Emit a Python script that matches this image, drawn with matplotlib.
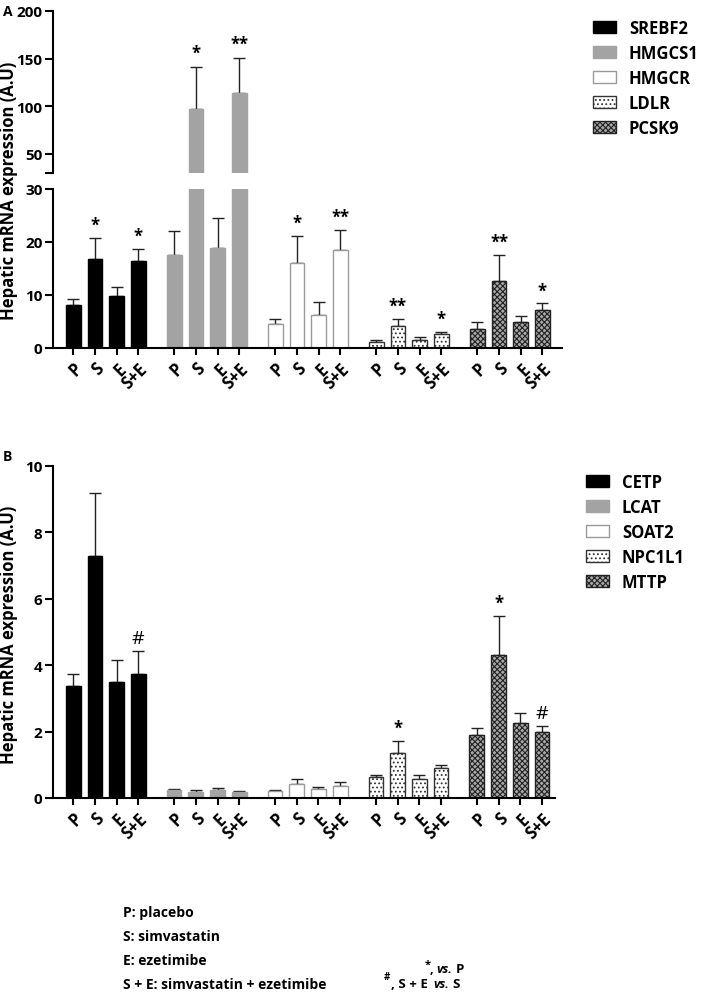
import matplotlib
matplotlib.use("Agg")
import matplotlib.pyplot as plt
from matplotlib.patches import Patch
import numpy as np

plt.rcParams['font.family'] = ['Open Sans', 'DejaVu Sans']
plt.rcParams['font.weight'] = 'bold'
plt.rcParams['hatch.linewidth'] = 0.8

# --- DATA ---
treatments = ['P', 'S', 'E', 'S+E']

genes_a = ['SREBF2', 'HMGCS1', 'HMGCR', 'LDLR', 'PCSK9']
mean_a = [
    [8.2, 16.8, 9.9, 16.5],
    [17.5, 97.2, 18.8, 113.6],
    [4.5, 16.0, 6.3, 18.5],
    [1.2, 4.2, 1.6, 2.6],
    [3.5, 12.6, 5.0, 7.2],
]
err_a = [
    [1.1, 4.0, 1.7, 2.2],
    [4.5, 44.4, 5.7, 37.1],
    [1.0, 5.1, 2.3, 3.8],
    [0.4, 1.3, 0.5, 0.5],
    [1.5, 4.9, 1.1, 1.2],
]
sig_a = [
    ['', '*', '', '*'],
    ['', '*', '', '**'],
    ['', '*', '', '**'],
    ['', '**', '', '*'],
    ['', '**', '', '*'],
]

genes_b = ['CETP', 'LCAT', 'SOAT2', 'NPC1L1', 'MTTP']
mean_b = [
    [3.36, 7.3, 3.5, 3.73],
    [0.25, 0.19, 0.24, 0.17],
    [0.20, 0.43, 0.26, 0.35],
    [0.62, 1.36, 0.57, 0.91],
    [1.91, 4.31, 2.25, 1.99],
]
err_b = [
    [0.38, 1.9, 0.66, 0.71],
    [0.03, 0.06, 0.06, 0.04],
    [0.05, 0.15, 0.07, 0.12],
    [0.07, 0.36, 0.13, 0.08],
    [0.21, 1.17, 0.32, 0.19],
]
sig_b = [
    ['', '', '', '#'],
    ['', '', '', ''],
    ['', '', '', ''],
    ['', '*', '', ''],
    ['', '*', '', '#'],
]

# styles per gene slot
styles = [
    dict(fc='black', ec='black', hatch=None),
    dict(fc='#a3a3a3', ec='#a3a3a3', hatch=None),
    dict(fc='white', ec='#9a9a9a', hatch=None),
    dict(fc='white', ec='#333333', hatch='....'),
    dict(fc='#a8a8a8', ec='#222222', hatch='xxxxxx'),
]

pitch = 4.65
width = 0.68
xlim = (-0.93, 4 * pitch + 3 + 0.9)


def xpos(g):
    return g * pitch + np.arange(4)


def draw_bars(ax, means, errs):
    for g in range(5):
        st = styles[g]
        x = xpos(g)
        ax.bar(x, means[g], width, color=st['fc'], edgecolor=st['ec'],
               hatch=st['hatch'], linewidth=1.0, zorder=2)
        ax.errorbar(x, means[g], yerr=[np.zeros(4), errs[g]], fmt='none',
                    ecolor='#222222', elinewidth=1.0, capsize=4, capthick=1.0,
                    zorder=1)


def style_axis(ax):
    for s in ['top', 'right']:
        ax.spines[s].set_visible(False)
    ax.spines['left'].set_linewidth(1.5)
    ax.spines['bottom'].set_linewidth(1.5)
    ax.tick_params(axis='y', direction='out', length=6, width=1.5, labelsize=11, pad=1.5)
    ax.set_xlim(*xlim)
    for lab in ax.get_yticklabels():
        lab.set_fontweight('bold')


def set_xticks(ax):
    xs = np.concatenate([xpos(g) for g in range(5)])
    ax.set_xticks(xs)
    ax.set_xticklabels(treatments * 5, rotation=45, ha='right',
                       rotation_mode='anchor', fontsize=12, fontweight='bold')
    ax.tick_params(axis='x', direction='out', length=5, width=1.5, pad=3)


fig = plt.figure(figsize=(7.09, 9.95), dpi=100)

# ---- Panel A: broken axis ----
ax_up = fig.add_axes([53 / 709, 1 - 174 / 995, 509 / 709, 162 / 995])
ax_lo = fig.add_axes([53 / 709, 1 - 349 / 995, 509 / 709, 159 / 995])

draw_bars(ax_up, mean_a, err_a)
draw_bars(ax_lo, mean_a, err_a)

ax_up.set_ylim(30, 200)
ax_up.set_yticks([30, 50, 100, 150, 200])
ax_up.set_yticklabels(['', '50', '100', '150', '200'])
ax_up.spines['bottom'].set_visible(False)
ax_up.set_xticks([])
style_axis(ax_up)

ax_lo.set_ylim(0, 30)
ax_lo.set_yticks([0, 10, 20, 30])
style_axis(ax_lo)
set_xticks(ax_lo)

for g in range(5):
    for i in range(4):
        s = sig_a[g][i]
        if not s:
            continue
        top = mean_a[g][i] + err_a[g][i]
        x = xpos(g)[i]
        if top > 30:
            ax_up.text(x, top + 5, s, ha='center', va='bottom', fontsize=12)
        else:
            ax_lo.text(x, top + 0.8, s, ha='center', va='bottom', fontsize=12)

fig.text(9 / 709, 1 - 191 / 995, 'Hepatic mRNA expression (A.U)', rotation=90,
         ha='center', va='center', fontsize=12, fontweight='bold')
fig.text(3 / 709, 1 - 12 / 995, 'A', fontsize=10, fontweight='bold', va='center')

# ---- Panel B ----
ax_b = fig.add_axes([53 / 709, 1 - 799 / 995, 502 / 709, 332 / 995])
draw_bars(ax_b, mean_b, err_b)
ax_b.set_ylim(0, 10)
ax_b.set_yticks([0, 2, 4, 6, 8, 10])
style_axis(ax_b)
ax_b.set_xlim(xlim[0], xlim[1] - 0.3)
set_xticks(ax_b)

for g in range(5):
    for i in range(4):
        s = sig_b[g][i]
        if not s:
            continue
        top = mean_b[g][i] + err_b[g][i]
        x = xpos(g)[i]
        ax_b.text(x, top + 0.12, s, ha='center', va='bottom', fontsize=14 if s == '#' else 12,
                  fontweight='normal' if s == '#' else 'bold')

fig.text(9 / 709, 1 - 635 / 995, 'Hepatic mRNA expression (A.U)', rotation=90,
         ha='center', va='center', fontsize=12, fontweight='bold')
fig.text(3 / 709, 1 - 457 / 995, 'B', fontsize=10, fontweight='bold', va='center')

# ---- Legends ----
def make_handles(names):
    return [Patch(facecolor=styles[g]['fc'], edgecolor=styles[g]['ec'],
                  hatch=styles[g]['hatch'], linewidth=1.0, label=names[g])
            for g in range(5)]

leg_kw = dict(frameon=False, loc='upper left', handlelength=1.4, handleheight=0.7,
              labelspacing=0.42, handletextpad=0.75, borderpad=0, borderaxespad=0,
              prop={'weight': 'bold', 'size': 12})
fig.legend(handles=make_handles(genes_a), bbox_to_anchor=(593 / 709, 1 - 20 / 995), **leg_kw)
fig.legend(handles=make_handles(genes_b), bbox_to_anchor=(586 / 709, 1 - 474 / 995), **leg_kw)

# ---- Footer ----
footer = ['P: placebo', 'S: simvastatin', 'E: ezetimibe',
          'S + E: simvastatin + ezetimibe']
for k, line in enumerate(footer):
    fig.text(123 / 709, 1 - (913 + 24 * k) / 995, line, fontsize=10,
             fontweight='bold', va='center')

fig.text(425 / 709, 1 - 965 / 995, '*', fontsize=8, fontweight='bold', va='center')
fig.text(430 / 709, 1 - 970 / 995, ',', fontsize=9, fontweight='bold', va='center')
fig.text(436 / 709, 1 - 970 / 995, 'vs.', fontsize=9, fontweight='bold',
         fontstyle='italic', va='center')
fig.text(456 / 709, 1 - 970 / 995, 'P', fontsize=9.5, fontweight='bold', va='center')

fig.text(384 / 709, 1 - 978 / 995, '#', fontsize=7, fontweight='bold', va='center')
fig.text(391 / 709, 1 - 985 / 995, ', S + E', fontsize=9.5, fontweight='bold', va='center')
fig.text(433 / 709, 1 - 985 / 995, 'vs.', fontsize=9, fontweight='bold',
         fontstyle='italic', va='center')
fig.text(452 / 709, 1 - 985 / 995, 'S', fontsize=9.5, fontweight='bold', va='center')

fig.savefig('out.png', dpi=100)
